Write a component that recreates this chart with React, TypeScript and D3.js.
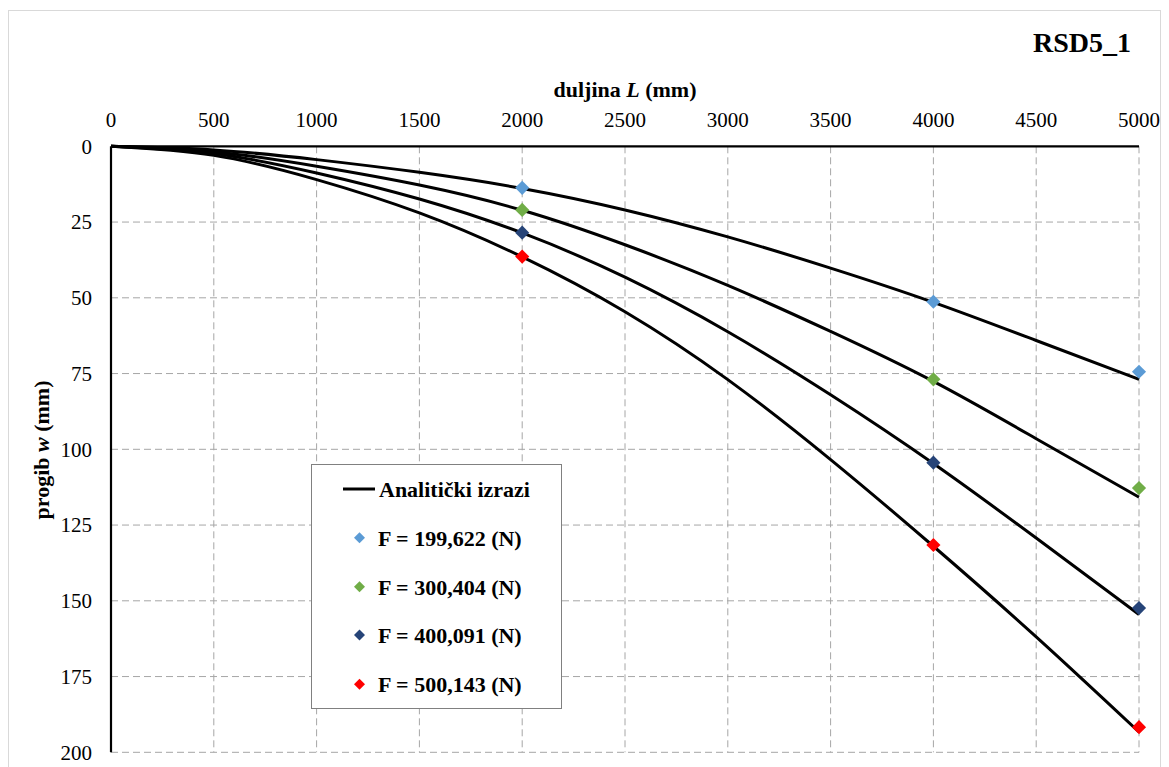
import React from "react";
import * as d3 from "d3";

const lengths = [0, 500, 1000, 1500, 2000, 2500, 3000, 3500, 4000, 4500, 5000];
const curveF1 = [0, 1.2, 4.4, 8.6, 13.9, 21.0, 29.9, 40.2, 51.5, 64.1, 76.9];
const curveF2 = [0, 1.8, 6.6, 12.8, 21.1, 32.5, 45.9, 61.1, 77.6, 96.5, 115.8];
const curveF3 = [0, 2.4, 8.8, 17.4, 28.6, 43.2, 61.2, 82.0, 104.7, 129.3, 154.5];
const curveF4 = [0, 3.0, 11.0, 22.0, 36.5, 54.6, 77.0, 103.4, 132.0, 161.9, 193.3];

const pointL = [2000, 4000, 5000];
const pointsF1 = [13.7, 51.3, 74.4];
const pointsF2 = [21.0, 76.9, 112.8];
const pointsF3 = [28.5, 104.4, 152.4];
const pointsF4 = [36.4, 131.6, 191.7];

const seriesNames = ["F = 199,622 (N)", "F = 300,404 (N)", "F = 400,091 (N)", "F = 500,143 (N)"];
const seriesColors = ["#5B9BD5", "#70AD47", "#264478", "#FF0000"];
const xTicks = [0, 500, 1000, 1500, 2000, 2500, 3000, 3500, 4000, 4500, 5000];
const yTicks = [0, 25, 50, 75, 100, 125, 150, 175, 200];

const FONT = "Liberation Serif, Times New Roman, serif";

export default function App() {
  const x = d3.scaleLinear().domain([0, 5000]).range([111, 1139]);
  const y = d3.scaleLinear().domain([0, 200]).range([146.3, 752.3]);
  const line = d3
    .line<number>()
    .x((_, i) => x(lengths[i]))
    .y((d) => y(d))
    .curve(d3.curveNatural);
  const curves = [curveF1, curveF2, curveF3, curveF4];
  const points = [pointsF1, pointsF2, pointsF3, pointsF4];
  const diamond = d3.symbol().type(d3.symbolSquare).size(100)() as string;
  const diamondSmall = d3.symbol().type(d3.symbolSquare).size(60)() as string;
  const legendYs = [537.7, 586.7, 635, 684.3];

  return (
    <div style={{ position: "absolute", left: 0, top: 0 }}>
      <svg width={1169} height={767} style={{ display: "block", background: "#fff" }}>
        <rect x={8.5} y={10.5} width={1152} height={780} fill="#fff" stroke="#D9D9D9" strokeWidth={1} />
        {/* grid */}
        {xTicks.filter((t) => t > 0).map((t) => (
          <line key={"gx" + t} x1={x(t)} x2={x(t)} y1={y(0)} y2={y(200)} stroke="#A6A6A6" strokeWidth={1} strokeDasharray="7,4" />
        ))}
        {yTicks.filter((t) => t > 0).map((t) => (
          <line key={"gy" + t} x1={x(0)} x2={x(5000)} y1={y(t)} y2={y(t)} stroke="#A6A6A6" strokeWidth={1} strokeDasharray="7,4" />
        ))}
        {/* axes */}
        <line x1={x(0)} x2={x(5000)} y1={y(0)} y2={y(0)} stroke="#000" strokeWidth={2.2} />
        <line x1={x(0)} x2={x(0)} y1={y(0)} y2={y(200)} stroke="#000" strokeWidth={2.2} />
        {/* tick labels */}
        {xTicks.map((t) => (
          <text key={"tx" + t} x={x(t)} y={127} textAnchor="middle" fontFamily={FONT} fontSize={21} fill="#000">
            {t}
          </text>
        ))}
        {yTicks.map((t) => (
          <text key={"ty" + t} x={92} y={y(t)} dy="0.35em" textAnchor="end" fontFamily={FONT} fontSize={21} fill="#000">
            {t}
          </text>
        ))}
        {/* axis titles */}
        <text x={625} y={97} textAnchor="middle" fontFamily={FONT} fontSize={22} fontWeight="bold" fill="#000">
          duljina <tspan fontStyle="italic">L</tspan> (mm)
        </text>
        <text
          transform={`translate(49,450) rotate(-90)`}
          textAnchor="middle"
          fontFamily={FONT}
          fontSize={22}
          fontWeight="bold"
          fill="#000"
        >
          progib <tspan fontStyle="italic">w</tspan> (mm)
        </text>
        <text x={1131} y={52} textAnchor="end" fontFamily={FONT} fontSize={28} fontWeight="bold" fill="#000">
          RSD5_1
        </text>
        {/* curves */}
        {curves.map((c, i) => (
          <path key={"c" + i} d={line(c) as string} fill="none" stroke="#000" strokeWidth={3} />
        ))}
        {/* points */}
        {points.map((ps, i) =>
          ps.map((v, j) => (
            <path
              key={"p" + i + "-" + j}
              d={diamond}
              transform={`translate(${x(pointL[j])},${y(v)}) rotate(45)`}
              fill={seriesColors[i]}
            />
          ))
        )}
        {/* legend */}
        <rect x={311.5} y={464.5} width={250} height={244} fill="#fff" stroke="#808080" strokeWidth={1} />
        <line x1={343} x2={375} y1={489} y2={489} stroke="#000" strokeWidth={3} />
        <text x={379} y={497} fontFamily={FONT} fontSize={22} fontWeight="bold" fill="#000">
          Analitički izrazi
        </text>
        {seriesNames.map((n, i) => (
          <g key={"l" + i}>
            <path d={diamondSmall} transform={`translate(359.5,${legendYs[i]}) rotate(45)`} fill={seriesColors[i]} />
            <text x={378} y={legendYs[i] + 8} fontFamily={FONT} fontSize={22} fontWeight="bold" fill="#000">
              {n}
            </text>
          </g>
        ))}
      </svg>
    </div>
  );
}
